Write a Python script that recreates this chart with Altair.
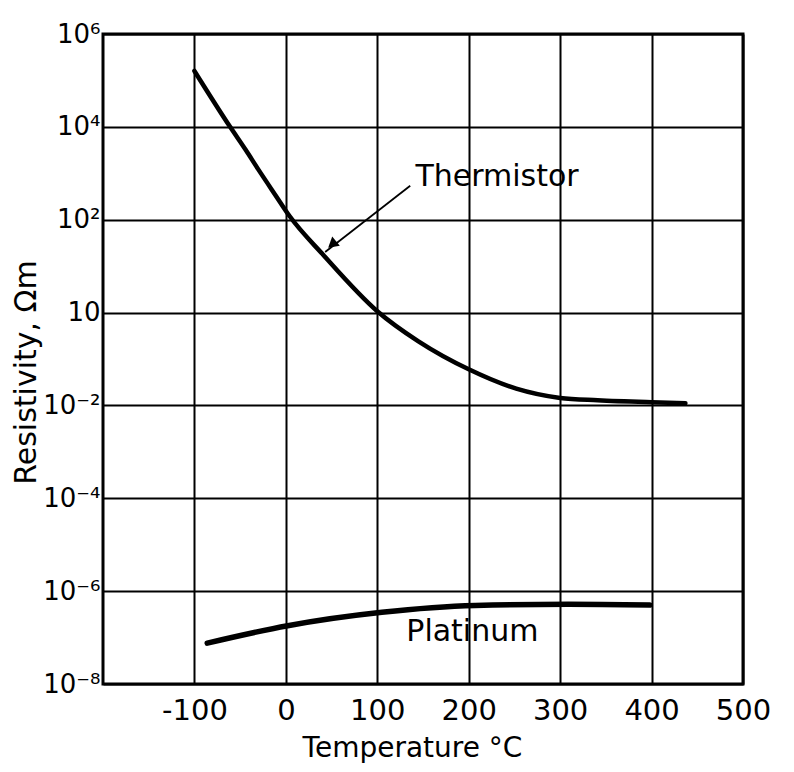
import altair as alt
import pandas as pd

# ---- data ----
therm_temp = [-100, -61, -44, -30, -11, 4, 41, 100, 145, 200, 252, 300, 341, 400, 437]
therm_rho = [1.6e5, 1.0e4, 3.2e3, 1.2e3, 3.3e2, 1.2e2, 17.4, 1.07, 0.24, 0.060, 0.023, 0.0145, 0.0129, 0.0117, 0.0112]

plat_temp = [-86, 2, 105, 207, 309, 398]
plat_rho = [7.6e-8, 1.8e-7, 3.5e-7, 4.9e-7, 5.2e-7, 5.0e-7]

x_ticks = [-100, 0, 100, 200, 300, 400, 500]
y_ticks = [1e-8, 1e-6, 1e-4, 1e-2, 1, 1e2, 1e4, 1e6]
y_tick_labels = ["10⁻⁸", "10⁻⁶", "10⁻⁴", "10⁻²", "10", "10²", "10⁴", "10⁶"]
y_exps = [-8, -6, -4, -2, 0, 2, 4, 6]

label_names = ["Thermistor", "Platinum"]
label_temp = [231, 204]
label_rho = [830, 1.3e-7]

arrow_temp = [136, 43]
arrow_rho = [537, 20.2]
arrow_head_temp = [52]
arrow_head_rho = [31]

FONT = "DejaVu Sans"

therm = pd.DataFrame({"t": therm_temp, "r": therm_rho})
plat = pd.DataFrame({"t": plat_temp, "r": plat_rho})
labels = pd.DataFrame({"name": label_names, "t": label_temp, "r": label_rho})
arrow = pd.DataFrame({"t": arrow_temp, "r": arrow_rho})
head = pd.DataFrame({"t": arrow_head_temp, "r": arrow_head_rho})

# label expression for y tick labels
expr = "''"
for e, lab in zip(y_exps, y_tick_labels):
    expr = f"(round(log(datum.value)/LN10) == {e}) ? '{lab}' : ({expr})"

xscale = alt.Scale(domain=[-200, 500], nice=False, zero=False)
yscale = alt.Scale(type="log", domain=[1e-8, 1e6], nice=False)

xenc = alt.X("t:Q", scale=xscale, axis=alt.Axis(
    values=x_ticks, title="Temperature °C",
    labelExpr="datum.value < 0 ? '-' + format(-datum.value, 'd') : format(datum.value, 'd')",
    labelFontSize=29, labelFont=FONT, labelColor="black", labelPadding=12,
    labelFlush=False, labelOverlap=False, labelBound=False,
    titleFontSize=28, titleFont=FONT, titleFontWeight="normal", titleColor="black",
    titleX=309, titleY=72, titleBaseline="alphabetic", titleAnchor="start", titleAlign="center",
    grid=True, gridColor="black", gridWidth=2, gridOpacity=1,
    domain=False, ticks=False))
yenc = alt.Y("r:Q", scale=yscale, axis=alt.Axis(
    values=y_ticks, title="Resistivity, Ωm",
    labelExpr=expr,
    labelFontSize=26, labelFont=FONT, labelColor="black", labelPadding=3,
    labelFlush=False, labelOverlap=False, labelBound=False, labelBaseline="middle",
    titleFontSize=30, titleFont=FONT, titleFontWeight="normal", titleColor="black",
    titleX=-68, titleY=338, titleAngle=270, titleBaseline="alphabetic", titleAlign="center",
    grid=True, gridColor="black", gridWidth=2, gridOpacity=1,
    domain=False, ticks=False))

base_x = alt.X("t:Q", scale=xscale)
base_y = alt.Y("r:Q", scale=yscale)

therm_line = alt.Chart(therm).mark_line(color="black", strokeWidth=4.5, interpolate="monotone",
                                         strokeCap="round").encode(x=xenc, y=yenc)
plat_line = alt.Chart(plat).mark_line(color="black", strokeWidth=5.5, interpolate="monotone",
                                       strokeCap="round").encode(x=base_x, y=base_y)
arrow_line = alt.Chart(arrow).mark_line(color="black", strokeWidth=1.8).encode(x=base_x, y=base_y)
arrow_head = alt.Chart(head).mark_point(shape="triangle", filled=True, color="black", size=140,
                                        angle=230, opacity=1).encode(x=base_x, y=base_y)
texts = alt.Chart(labels).mark_text(font=FONT, fontSize=30, color="black", align="center",
                                    baseline="middle").encode(x=base_x, y=base_y, text="name:N")

chart = alt.layer(therm_line, plat_line, arrow_line, arrow_head, texts).properties(
    width=640, height=650,
    autosize=alt.AutoSizeParams(type="none"),
    padding={"left": 95, "top": 26, "right": 40, "bottom": 80},
    background="white",
).configure_view(stroke="black", strokeWidth=3)

chart.save("out.html", embed_options={"renderer": "svg", "actions": False})
